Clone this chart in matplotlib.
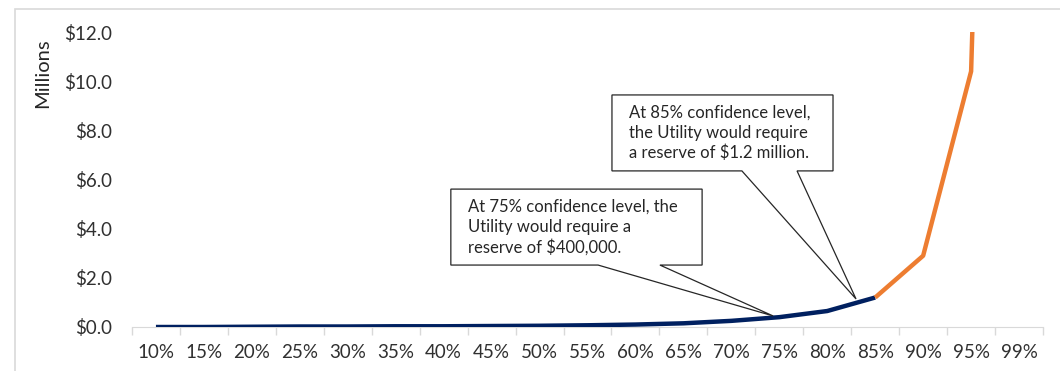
import numpy as np
import matplotlib.pyplot as plt
from matplotlib.patches import Polygon, Rectangle

plt.rcParams['font.family'] = ['Lato', 'DejaVu Sans']

levels = ['10%', '15%', '20%', '25%', '30%', '35%', '40%', '45%', '50%', '55%',
          '60%', '65%', '70%', '75%', '80%', '85%', '90%', '95%', '99%']
# reserve in $ millions
reserve = [0.0, 0.0, 0.01, 0.02, 0.02, 0.03, 0.03, 0.04, 0.05, 0.07,
           0.1, 0.15, 0.25, 0.4, 0.65, 1.2, 2.9, 10.4, 75.0]
split = levels.index('85%')

navy = '#002060'
orange = '#ED7D31'
grey = '#d9d9d9'
txt = '#303030'

fig = plt.figure(figsize=(10.6, 3.71), dpi=100)
ax = fig.add_axes([0.1245, 0.1186, 0.8595, 0.7951])

x = np.arange(len(levels))
ax.plot(x[:split + 1], reserve[:split + 1], color=navy, lw=3.2, solid_capstyle='butt', zorder=3)
ax.plot(x[split:], reserve[split:], color=orange, lw=3.2, solid_capstyle='butt', zorder=3)

ax.set_xlim(-0.5, len(levels) - 0.5)
ax.set_ylim(0, 12)
ax.set_yticks(np.arange(0, 12.1, 2))
ax.set_yticklabels([f'${v:.1f}' for v in np.arange(0, 12.1, 2)], fontsize=13.5, color=txt)
ax.tick_params(axis='y', length=0, pad=14)

# labels sit at category centres, tick marks on the boundaries
ax.set_xticks(np.arange(-0.5, len(levels)), minor=False)
ax.set_xticklabels([])
ax.set_xticks(x, minor=True)
ax.set_xticklabels(levels, minor=True, fontsize=13.5, color=txt)
ax.tick_params(axis='x', which='major', length=6, color=grey, width=1)
ax.tick_params(axis='x', which='minor', length=0, pad=12)

for s in ['top', 'right', 'left']:
    ax.spines[s].set_visible(False)
ax.spines['bottom'].set_color(grey)
ax.set_ylabel('Millions', fontsize=14.5, color='#262626')
ax.yaxis.set_label_coords(-0.089, 0.86)


def callout(left, right, bottom, top, base0, base1, tip, lines):
    verts = [(left, bottom), (left, top), (right, top), (right, bottom),
             (base1, bottom), tip, (base0, bottom)]
    ax.add_patch(Polygon(verts, closed=True, fc='white', ec='#262626', lw=0.9, zorder=4))
    ax.text(left + 0.35, (top + bottom) / 2, '\n'.join(lines), fontsize=12,
            color='#262626', va='center', ha='left', linespacing=1.28, zorder=5)


i75 = levels.index('75%')
i85 = levels.index('85%')
callout(6.15, 11.39, 2.52, 5.61, 9.22, 10.51, (i75 - 0.13, reserve[i75] + 0.05),
        ['At 75% confidence level, the', 'Utility would require a',
         'reserve of $400,000.'])
callout(9.51, 14.12, 6.35, 9.44, 12.22, 13.37, (i85 - 0.4, reserve[i85] - 0.06),
        ['At 85% confidence level,', 'the Utility would require',
         'a reserve of $1.2 million.'])

# chart area frame
fig.patches.append(Rectangle((15 / 1060, -0.05), 1.1, 1 - 9 / 371 + 0.05,
                             transform=fig.transFigure, fill=False, ec=grey, lw=1.2))

fig.savefig('out.png', dpi=100)
